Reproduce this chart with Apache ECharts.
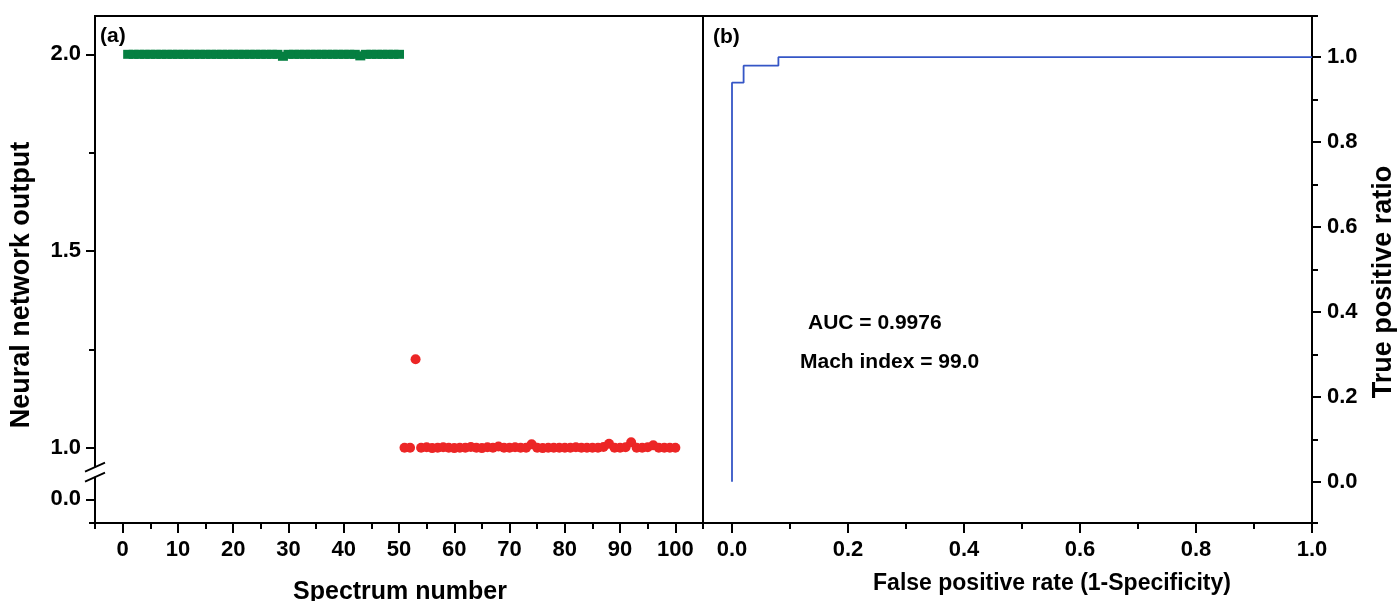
<!DOCTYPE html>
<html>
<head>
<meta charset="utf-8">
<script src="https://cdn.jsdelivr.net/npm/echarts@6.0.0/dist/echarts.min.js"></script>
<style>
  html, body { margin: 0; padding: 0; background: #fff; }
  #chart { width: 1399px; height: 601px; }
</style>
</head>
<body>
<div id="chart"></div>
<script>
// (a) network output for each spectrum, class 1 (spectra 1-50) and class 2 (spectra 51-100)
const spectraClassA = [1, 2, 3, 4, 5, 6, 7, 8, 9, 10, 11, 12, 13, 14, 15, 16, 17, 18, 19, 20,
  21, 22, 23, 24, 25, 26, 27, 28, 29, 30, 31, 32, 33, 34, 35, 36, 37, 38, 39, 40,
  41, 42, 43, 44, 45, 46, 47, 48, 49, 50];
const outputClassA = [2.000, 2.000, 2.000, 2.000, 2.000, 2.000, 2.000, 2.000, 2.000, 2.000,
  2.000, 2.000, 2.000, 2.000, 2.000, 2.000, 2.000, 2.000, 2.000, 2.000,
  2.000, 2.000, 2.000, 2.000, 2.000, 2.000, 2.000, 2.000, 1.995, 2.000,
  2.000, 2.000, 2.000, 2.000, 2.000, 2.000, 2.000, 2.000, 2.000, 2.000,
  2.000, 2.000, 1.996, 2.000, 2.000, 2.000, 2.000, 2.000, 2.000, 2.000];
const spectraClassB = [51, 52, 53, 54, 55, 56, 57, 58, 59, 60, 61, 62, 63, 64, 65, 66, 67, 68, 69, 70,
  71, 72, 73, 74, 75, 76, 77, 78, 79, 80, 81, 82, 83, 84, 85, 86, 87, 88, 89, 90,
  91, 92, 93, 94, 95, 96, 97, 98, 99, 100];
const outputClassB = [1.000, 1.000, 1.225, 1.000, 1.001, 0.999, 1.000, 1.001, 1.000, 0.999,
  1.000, 1.000, 1.002, 1.000, 0.999, 1.001, 1.000, 1.003, 1.000, 1.000,
  1.001, 1.000, 1.000, 1.009, 1.000, 0.999, 1.000, 1.000, 1.000, 1.000,
  1.000, 1.001, 1.000, 1.000, 1.000, 1.000, 1.002, 1.010, 1.000, 1.000,
  1.001, 1.014, 1.000, 1.000, 1.001, 1.006, 1.000, 1.000, 1.000, 1.000];

// (b) ROC curve
const rocFpr = [0, 0, 0.02, 0.02, 0.08, 0.08, 1.0];
const rocTpr = [0, 0.94, 0.94, 0.98, 0.98, 1.0, 1.0];
const machIndex = 99.0;

// tick labels
const xTicksA = [0, 10, 20, 30, 40, 50, 60, 70, 80, 90, 100];
const xMinorA = [-5, 5, 15, 25, 35, 45, 55, 65, 75, 85, 95, 105];
const yTicksA = [0.0, 1.0, 1.5, 2.0];
const yMinorA = [1.25, 1.75];
const xTicksB = [0, 0.2, 0.4, 0.6, 0.8, 1.0];
const xMinorB = [0.1, 0.3, 0.5, 0.7, 0.9];
const yTicksB = [0, 0.2, 0.4, 0.6, 0.8, 1.0];
const yMinorB = [0.1, 0.3, 0.5, 0.7, 0.9];

// broken y axis of panel (a): the upper segment (outputs around 1..2) is linear,
// the lower segment only carries the 0.0 tick, squeezed under the break
const Y_ZERO_POS = 0.8688;
const Y_BREAK_MARK = 0.938;
function brokenY(v) { return v >= 0.5 ? v : Y_ZERO_POS + v; }
const Y_MIN_A = 0.8086, Y_MAX_A = 2.0974;
const Y_MIN_B = -0.097, Y_MAX_B = 1.097;

// area under the ROC curve
let auc = 0;
for (let i = 1; i < rocFpr.length; i++) {
  auc += (rocFpr[i] - rocFpr[i - 1]) * (rocTpr[i] + rocTpr[i - 1]) / 2;
}

const FONT = "'Liberation Sans', Arial, Helvetica, sans-serif";
const BLACK = '#000';
const labelStyle = { color: BLACK, fontSize: 22, fontWeight: 'bold', fontFamily: FONT };
const lineStyle = { color: BLACK, width: 2 };

function majorAxis(o) {
  return Object.assign({
    type: 'value',
    splitLine: { show: false },
    axisLine: { show: true, onZero: false, lineStyle: lineStyle },
  }, o);
}
function minorAxis(o, values) {
  return Object.assign({
    type: 'value',
    splitLine: { show: false },
    axisLine: { show: false, onZero: false },
    axisLabel: { show: false },
    axisTick: { show: true, customValues: values, length: 6, lineStyle: lineStyle },
  }, o);
}

const yValsA = yTicksA.map(brokenY);

const GRID_A = { left: 95, top: 16, width: 608, height: 507 };
const GRID_B = { left: 703, top: 16, width: 609, height: 507 };
const gridStyle = { show: true, borderColor: BLACK, borderWidth: 2, backgroundColor: 'transparent',
  containLabel: false, outerBoundsMode: 'none' };

const chart = echarts.init(document.getElementById('chart'), null, { renderer: 'canvas' });
chart.setOption({
  animation: false,
  backgroundColor: '#fff',
  grid: [Object.assign({}, GRID_A, gridStyle), Object.assign({}, GRID_B, gridStyle)],
  xAxis: [
    majorAxis({ gridIndex: 0, position: 'bottom', min: -5, max: 105,
      axisTick: { show: true, customValues: xTicksA, length: 10, lineStyle: lineStyle },
      axisLabel: Object.assign({ customValues: xTicksA, margin: 16 }, labelStyle) }),
    minorAxis({ gridIndex: 0, position: 'bottom', min: -5, max: 105 }, xMinorA),
    majorAxis({ gridIndex: 1, position: 'bottom', min: -0.05, max: 1.0,
      axisTick: { show: true, customValues: xTicksB, length: 10, lineStyle: lineStyle },
      axisLabel: Object.assign({ customValues: xTicksB, margin: 16,
        formatter: v => v.toFixed(1) }, labelStyle) }),
    minorAxis({ gridIndex: 1, position: 'bottom', min: -0.05, max: 1.0 }, xMinorB)
  ],
  yAxis: [
    majorAxis({ gridIndex: 0, position: 'left', min: Y_MIN_A, max: Y_MAX_A,
      axisTick: { show: true, customValues: yValsA, length: 9, lineStyle: lineStyle },
      axisLabel: Object.assign({ customValues: yValsA, margin: 14,
        formatter: v => {
          const i = yValsA.findIndex(p => Math.abs(p - v) < 1e-6);
          return i >= 0 ? yTicksA[i].toFixed(1) : '';
        } }, labelStyle) }),
    minorAxis({ gridIndex: 0, position: 'left', min: Y_MIN_A, max: Y_MAX_A }, [Y_MIN_A].concat(yMinorA)),
    majorAxis({ gridIndex: 1, position: 'right', min: Y_MIN_B, max: Y_MAX_B,
      axisTick: { show: true, customValues: yTicksB, length: 9, lineStyle: lineStyle },
      axisLabel: Object.assign({ customValues: yTicksB, margin: 15,
        formatter: v => v.toFixed(1) }, labelStyle) }),
    minorAxis({ gridIndex: 1, position: 'right', min: Y_MIN_B, max: Y_MAX_B },
      [Y_MIN_B].concat(yMinorB, [Y_MAX_B]))
  ],
  series: [
    {
      type: 'scatter', xAxisIndex: 0, yAxisIndex: 0,
      symbol: 'rect', symbolSize: [10, 9],
      itemStyle: { color: '#057f41', opacity: 1 },
      data: spectraClassA.map((s, i) => [s, outputClassA[i]])
    },
    {
      type: 'scatter', xAxisIndex: 0, yAxisIndex: 0,
      symbol: 'circle', symbolSize: 10,
      itemStyle: { color: '#ec2626', opacity: 1 },
      data: spectraClassB.map((s, i) => [s, outputClassB[i]])
    },
    {
      type: 'line', xAxisIndex: 2, yAxisIndex: 2,
      showSymbol: false, symbol: 'none',
      lineStyle: { color: '#3556c6', width: 1.8 },
      data: rocFpr.map((f, i) => [f, rocTpr[i]])
    }
  ],
  graphic: [
    { id: 'titleYA', type: 'text', x: 22, y: 285, rotation: Math.PI / 2,
      style: { text: 'Neural network output', fill: BLACK, align: 'center', verticalAlign: 'middle',
        font: 'bold 27px ' + FONT } },
    { id: 'titleXA', type: 'text', x: 400, y: 592,
      style: { text: 'Spectrum number', fill: BLACK, align: 'center', verticalAlign: 'middle',
        font: 'bold 25px ' + FONT } },
    { id: 'titleXB', type: 'text', x: 1052, y: 584,
      style: { text: 'False positive rate (1-Specificity)', fill: BLACK, align: 'center', verticalAlign: 'middle',
        font: 'bold 23px ' + FONT } },
    { id: 'titleYB', type: 'text', x: 1384, y: 282, rotation: Math.PI / 2,
      style: { text: 'True positive ratio', fill: BLACK, align: 'center', verticalAlign: 'middle',
        font: 'bold 27px ' + FONT } },
    { id: 'panelA', type: 'text', x: 100, y: 36,
      style: { text: '(a)', fill: BLACK, align: 'left', verticalAlign: 'middle', font: 'bold 21px ' + FONT } },
    { id: 'panelB', type: 'text', x: 713, y: 37,
      style: { text: '(b)', fill: BLACK, align: 'left', verticalAlign: 'middle', font: 'bold 21px ' + FONT } },
    { id: 'auc', type: 'text', x: 808, y: 323,
      style: { text: 'AUC = ' + auc.toFixed(4), fill: BLACK, align: 'left', verticalAlign: 'middle',
        font: 'bold 21px ' + FONT } },
    { id: 'mach', type: 'text', x: 800, y: 362,
      style: { text: 'Mach index = ' + machIndex.toFixed(1), fill: BLACK, align: 'left', verticalAlign: 'middle',
        font: 'bold 21px ' + FONT } }
  ]
});

// break marks on the left axis of panel (a)
const bp = chart.convertToPixel({ xAxisIndex: 0, yAxisIndex: 0 }, [-5, Y_BREAK_MARK]);
const bx = bp[0], by = bp[1];
chart.setOption({
  graphic: [
    { id: 'breakGap', type: 'polygon', z: 100,
      shape: { points: [[bx - 10, by + 0], [bx + 10, by - 9], [bx + 10, by + 0], [bx - 10, by + 9]] },
      style: { fill: '#fff' } },
    { id: 'breakUpper', type: 'line', z: 101,
      shape: { x1: bx - 10, y1: by - 0.5, x2: bx + 10, y2: by - 9.5 },
      style: { stroke: BLACK, lineWidth: 1.8 } },
    { id: 'breakLower', type: 'line', z: 101,
      shape: { x1: bx - 10, y1: by + 9.5, x2: bx + 10, y2: by + 0.5 },
      style: { stroke: BLACK, lineWidth: 1.8 } }
  ]
});
</script>
</body>
</html>
